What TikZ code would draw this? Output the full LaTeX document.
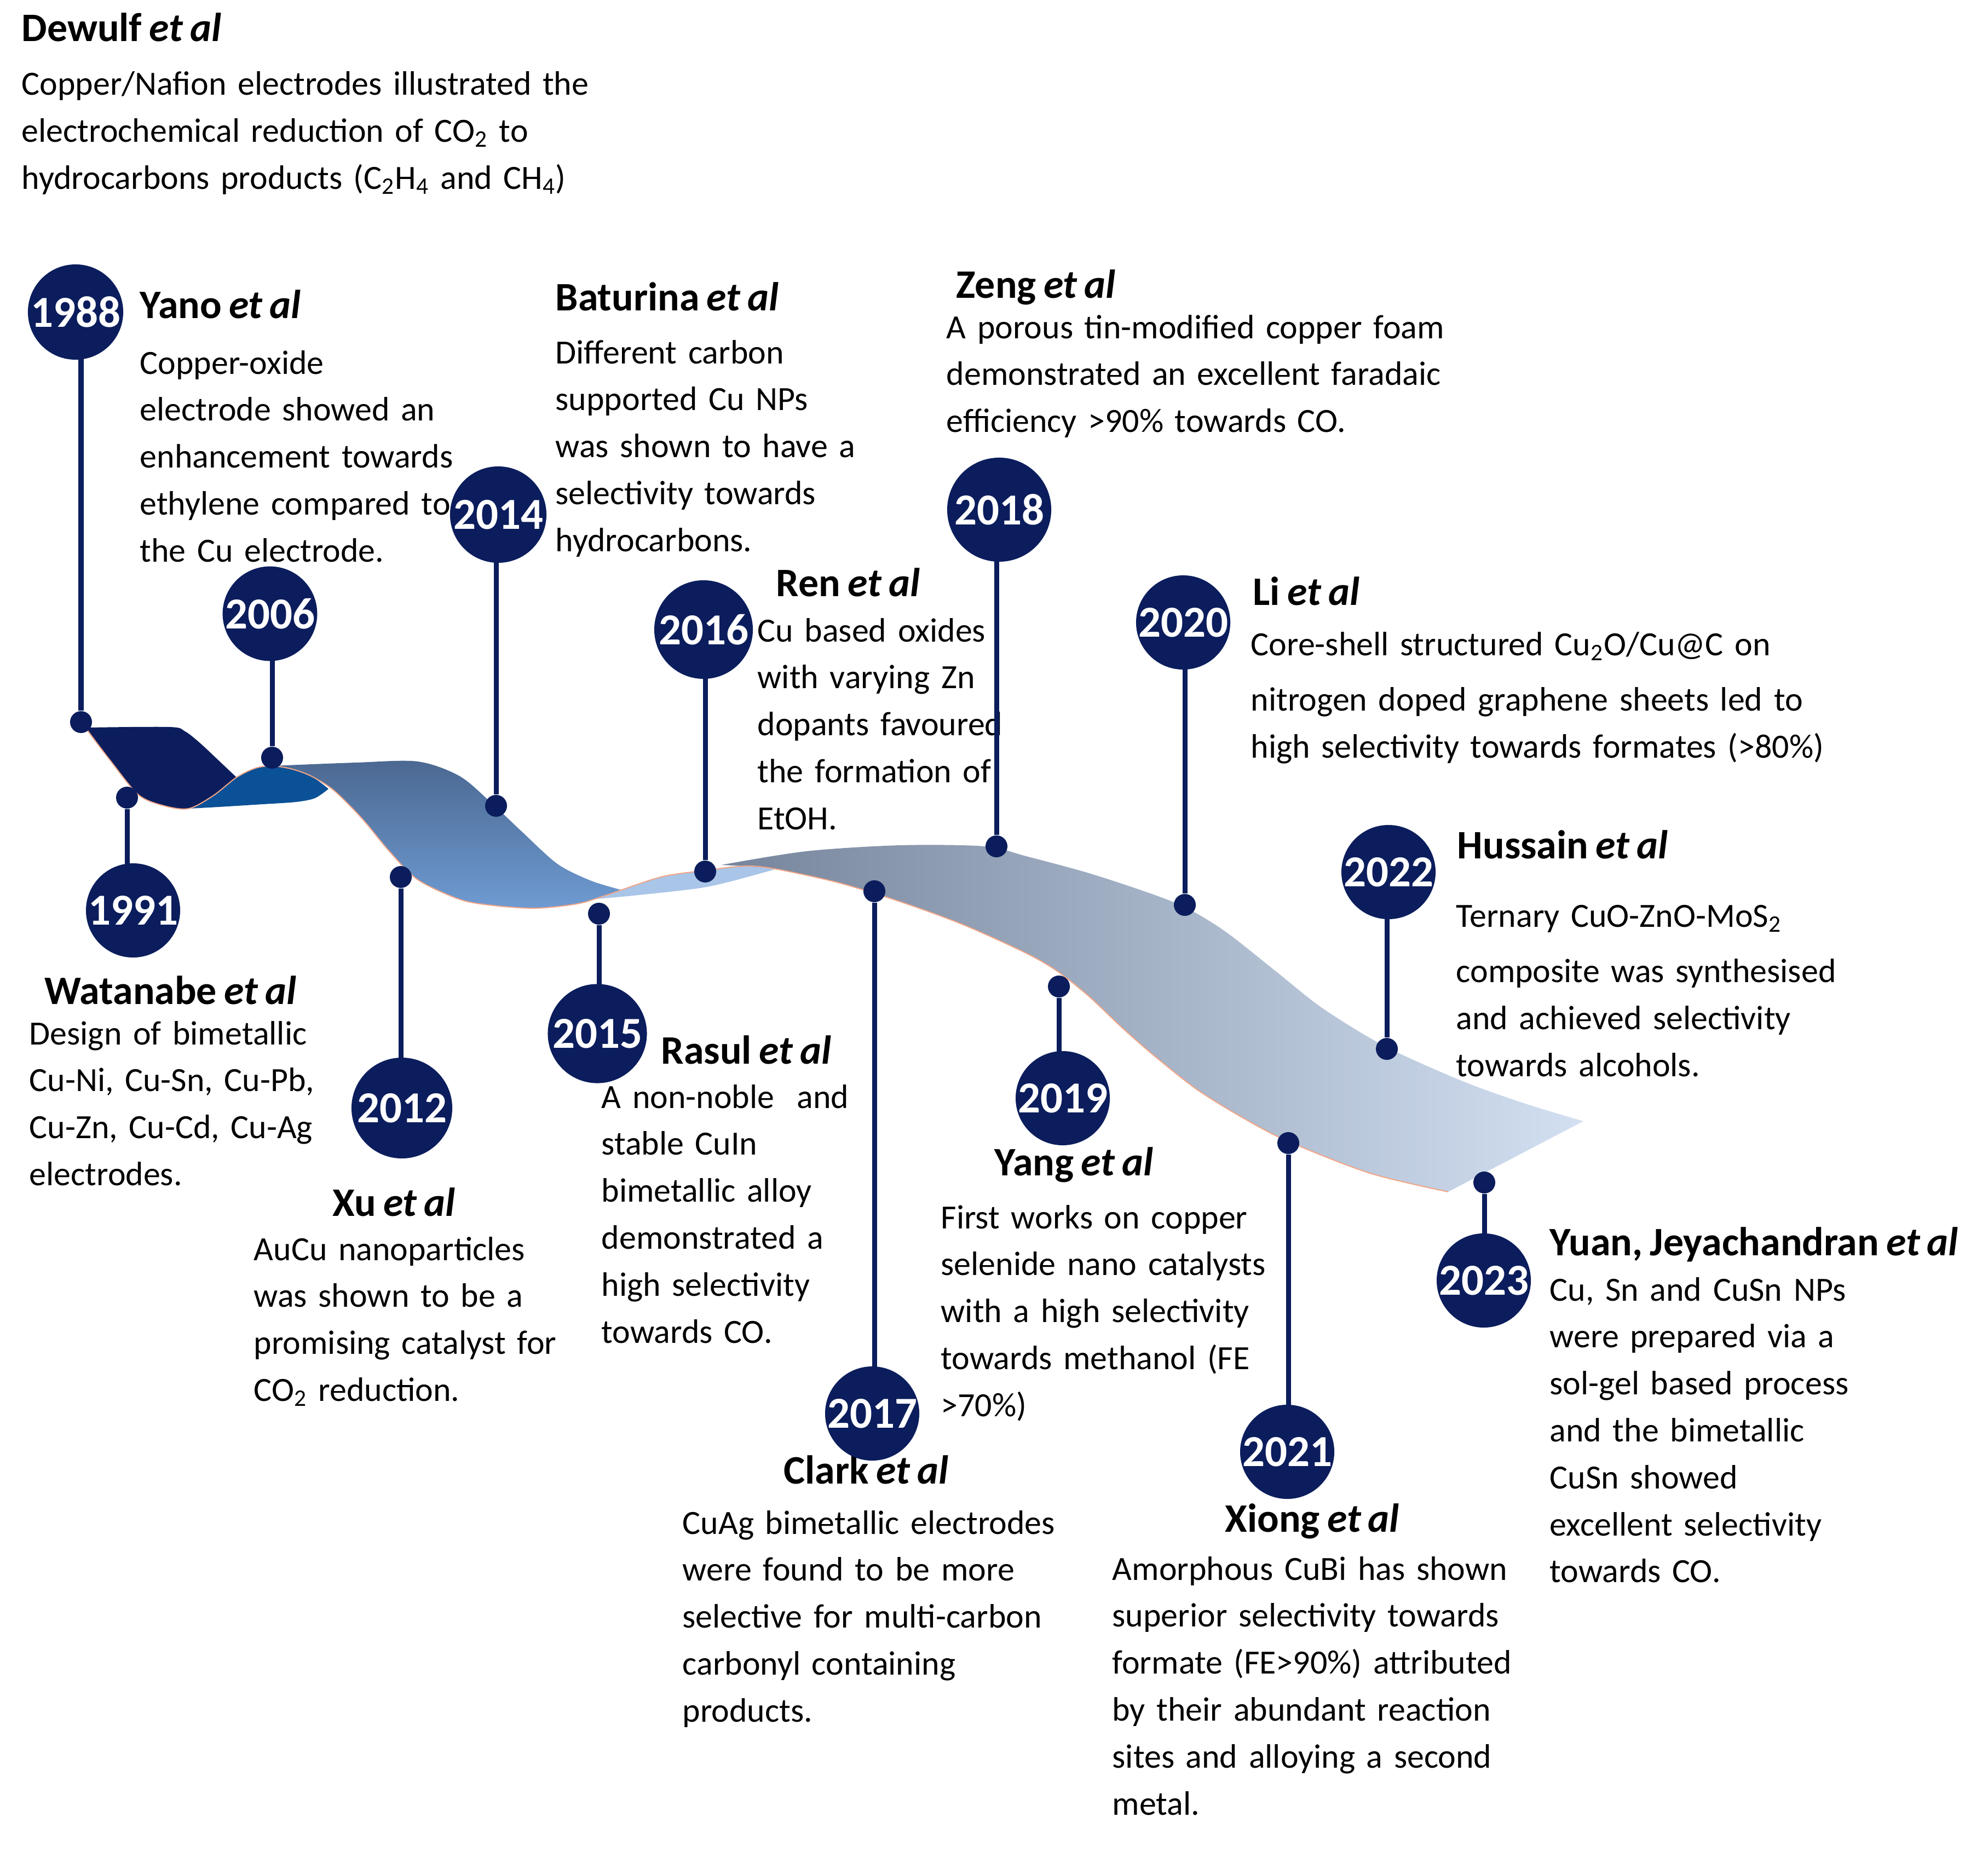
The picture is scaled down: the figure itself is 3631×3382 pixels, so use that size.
\documentclass[tikz,border=0pt]{standalone}
\usepackage{fontspec}
\setmainfont{Carlito}[WordSpace=0.8]
\usetikzlibrary{positioning}
\definecolor{navy}{HTML}{0B1D5C}
\definecolor{foldblue}{HTML}{0B5197}
\definecolor{steeltop}{HTML}{4B6891}
\definecolor{steelbot}{HTML}{6E9BD2}
\definecolor{paleblue}{HTML}{A9C5E8}
\definecolor{greyleft}{HTML}{76859C}
\definecolor{greyright}{HTML}{D3E0F2}
\definecolor{edgesalmon}{HTML}{F2A486}

\begin{document}
\begin{tikzpicture}[x=0.01cm,y=-0.01cm,
  yearnode/.style={circle,fill=navy,text=white,inner sep=0pt,font=\fontsize{23}{23}\selectfont\bfseries},
  dot/.style={circle,fill=navy,inner sep=0pt,minimum size=0.4cm},
  stem/.style={navy,line width=0.09cm},
  head/.style={anchor=base west,inner sep=0pt,font=\fontsize{21}{25}\selectfont\bfseries},
  body/.style={anchor=base west,inner sep=0pt,text width=12cm,align=left,font=\fontsize{17.6}{24.4}\selectfont}]
\useasboundingbox (0,0) rectangle (3631,3382);

% ribbon
\fill[foldblue] plot[smooth] coordinates {(345,1477) (390,1453) (432,1420) (467,1403) (498,1399) (534,1405) (569,1418) (600,1441)}
  -- plot[smooth] coordinates {(600,1441) (575,1458) (540,1465) (480,1469) (400,1474) (345,1477)} -- cycle;
\fill[navy] plot[smooth] coordinates {(158,1330) (202,1390) (253,1452) (300,1472) (345,1477) (390,1453) (432,1420)}
  -- plot[smooth] coordinates {(432,1420) (395,1385) (365,1357) (338,1336) (310,1328) (160,1329)} -- cycle;
\shade[top color=steeltop,bottom color=steelbot] plot[smooth] coordinates {(498,1399) (534,1405) (569,1418) (610,1444) (661,1495) (712,1556) (763,1607) (840,1643) (901,1654) (978,1659) (1054,1651) (1105,1636) (1140,1627)}
  -- plot[smooth] coordinates {(1140,1627) (1080,1609) (1018,1578) (952,1518) (900,1469) (840,1418) (763,1391) (650,1393) (498,1399)} -- cycle;
\fill[paleblue] plot[smooth] coordinates {(1090,1642) (1105,1636) (1207,1602) (1289,1590) (1360,1582) (1426,1585)}
  -- plot[smooth] coordinates {(1426,1585) (1335,1610) (1273,1623) (1156,1636) (1090,1642)} -- cycle;
\shade[left color=greyleft,right color=greyright] plot[smooth] coordinates {(1317,1580) (1415,1587) (1530,1612) (1644,1647) (1759,1689) (1874,1741) (1931,1774) (1989,1820) (2046,1874) (2104,1925) (2186,1990) (2272,2043) (2353,2085) (2502,2143) (2645,2177)}
  -- (2892,2048) -- plot[smooth] coordinates {(2892,2048) (2789,2017) (2674,1976) (2531,1912) (2416,1842) (2330,1774) (2240,1703) (2170,1660) (2104,1633) (1989,1595) (1874,1564) (1799,1546) (1644,1544) (1472,1555) (1317,1580)} -- cycle;
\draw[edgesalmon,line width=0.02cm] plot[smooth] coordinates {(158,1332) (202,1390) (253,1452) (300,1472) (345,1477) (390,1453) (432,1420) (467,1403) (498,1399) (534,1405) (569,1418) (610,1444) (661,1495) (712,1556) (763,1607) (840,1643) (901,1654) (978,1659) (1054,1651) (1105,1636) (1207,1602) (1289,1590) (1360,1582) (1415,1587) (1530,1612) (1644,1647) (1759,1689) (1874,1741) (1931,1774) (1989,1820) (2046,1874) (2104,1925) (2186,1990) (2272,2043) (2353,2085) (2502,2143) (2645,2177)};

% texts above the ribbon
\node[head] (hDewulf) at (39,76) {Dewulf \textit{et al}};
\node[body] (bDewulf) at (39,174) {Copper/Nafion electrodes illustrated the\\electrochemical reduction of CO\textsubscript{2} to\\hydrocarbons products (C\textsubscript{2}H\textsubscript{4} and CH\textsubscript{4})};
\node[head] (hYano) at (255,581) {Yano \textit{et al}};
\node[body] (bYano) at (255,683) {Copper-oxide\\electrode showed an\\enhancement towards\\ethylene compared to\\the Cu electrode.};
\node[head] (hBaturina) at (1014,567) {Baturina \textit{et al}};
\node[body] (bBaturina) at (1014,664) {Different carbon\\supported Cu NPs\\was shown to have a\\selectivity towards\\hydrocarbons.};
\node[head] (hZeng) at (1746,544) {Zeng \textit{et al}};
\node[body] (bZeng) at (1728,618) {A porous tin-modified copper foam\\demonstrated an excellent faradaic\\efficiency >90\% towards CO.};
\node[head] (hRen) at (1417,1089) {Ren \textit{et al}};
\node[body] (bRen) at (1383,1172) {Cu based oxides\\with varying Zn\\dopants favoured\\the formation of\\EtOH.};
\node[head] (hLi) at (2288,1105) {Li \textit{et al}};
\node[body] (bLi) at (2284,1197) {Core-shell structured Cu\textsubscript{2}O/Cu@C on\\[4.5pt]nitrogen doped graphene sheets led to\\high selectivity towards formates (>80\%)};
\node[head] (hHussain) at (2661,1568) {Hussain \textit{et al}};
\node[body] (bHussain) at (2659,1693) {Ternary CuO-ZnO-MoS\textsubscript{2}\\[4.5pt]composite was synthesised\\and achieved selectivity\\towards alcohols.};

% texts below the ribbon
\node[head] (hWatanabe) at (81,1834) {Watanabe \textit{et al}};
\node[body] (bWatanabe) at (53,1908) {Design of bimetallic\\Cu-Ni, Cu-Sn, Cu-Pb,\\Cu-Zn, Cu-Cd, Cu-Ag\\electrodes.};
\node[head] (hXu) at (607,2221) {Xu \textit{et al}};
\node[body] (bXu) at (463,2302) {AuCu nanoparticles\\was shown to be a\\promising catalyst for\\CO\textsubscript{2} reduction.};
\node[head] (hRasul) at (1207,1943) {Rasul \textit{et al}};
\node[body] (bRasul) at (1098,2024) {A non-noble\ \ and\\stable CuIn\\bimetallic alloy\\demonstrated a\\high selectivity\\towards CO.};
\node[head] (hClark) at (1431,2710) {Clark \textit{et al}};
\node[body] (bClark) at (1246,2802) {CuAg bimetallic electrodes\\were found to be more\\selective for multi-carbon\\carbonyl containing\\products.};
\node[head] (hYang) at (1816,2147) {Yang \textit{et al}};
\node[body] (bYang) at (1718,2244) {First works on copper\\selenide nano catalysts\\with a high selectivity\\towards methanol (FE\\>70\%)};
\node[head] (hXiong) at (2237,2798) {Xiong \textit{et al}};
\node[body] (bXiong) at (2031,2886) {Amorphous CuBi has shown\\superior selectivity towards\\formate (FE>90\%) attributed\\by their abundant reaction\\sites and alloying a second\\metal.};
\node[head] (hYuan) at (2830,2293) {Yuan, Jeyachandran \textit{et al}};
\node[body] (bYuan) at (2830,2376) {Cu, Sn and CuSn NPs\\were prepared via a\\sol-gel based process\\and the bimetallic\\CuSn showed\\excellent selectivity\\towards CO.};

% year markers: year/circle x/circle y/diameter/dot x/dot y
\foreach \yr/\cx/\cy/\dm/\px/\py in {
  1988/138/570/1.74/148/1319, 2006/493/1121/1.66/497/1384,
  2014/910/940/1.76/906/1472, 2016/1285/1150/1.80/1288/1592,
  2018/1825/931/1.90/1820/1546, 2020/2161/1137/1.72/2164/1653,
  2022/2536/1593/1.70/2533/1916, 1991/243/1663/1.58/232/1457,
  2012/734/2024/1.84/732/1602, 2015/1091/1888/1.81/1094/1669,
  2017/1593/2582/1.65/1597/1628, 2019/1941/2006/1.70/1934/1802,
  2021/2351/2652/1.65/2353/2088, 2023/2710/2339/1.55/2711/2160}{
  \node[dot] (p\yr) at (\px,\py) {};
  \coordinate (s\yr) at (\px,\cy);
  \draw[stem] (p\yr) -- (s\yr);
  \node[yearnode,minimum size=\dm cm] (c\yr) at (\cx,\cy) {\yr};
}
\end{tikzpicture}
\end{document}
